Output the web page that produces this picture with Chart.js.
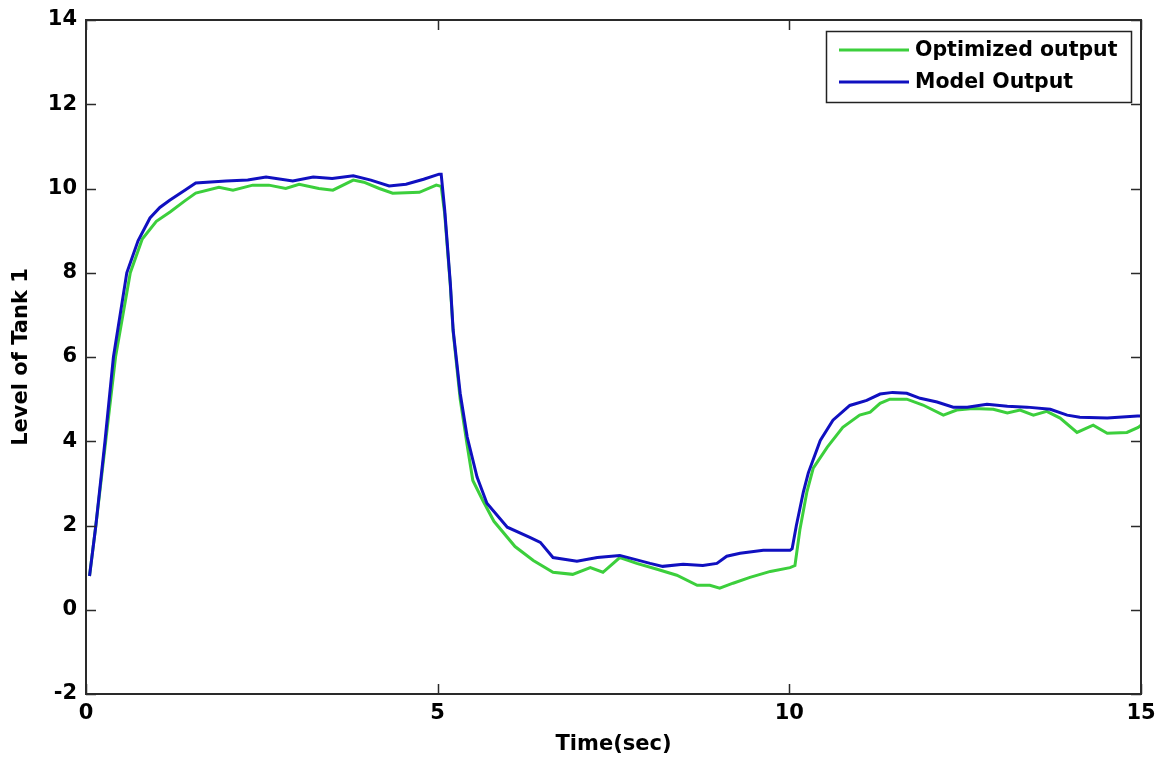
<!DOCTYPE html>
<html>
<head>
<meta charset="utf-8">
<script src="https://cdn.jsdelivr.net/npm/chart.js@4.4.0/dist/chart.umd.min.js"></script>
<style>
html,body{margin:0;padding:0;background:#fff;}
#wrap{width:1160px;height:762px;}
</style>
</head>
<body>
<div id="wrap"><canvas id="c" width="1160" height="762"></canvas></div>
<script>
// ---- data ----
const seriesNames = ["Optimized output", "Model Output"];
const xTickValues = [0, 5, 10, 15];
const yTickValues = [-2, 0, 2, 4, 6, 8, 10, 12, 14];
const xTitle = "Time(sec)";
const yTitle = "Level of Tank 1";

const optTime = [0.05,0.14,0.28,0.42,0.63,0.8,1.0,1.2,1.4,1.56,1.89,2.09,2.37,2.6,2.84,3.03,3.31,3.51,3.8,3.95,4.17,4.36,4.55,4.74,4.98,5.05,5.1,5.18,5.22,5.32,5.42,5.5,5.64,5.8,6.1,6.36,6.64,6.92,7.17,7.35,7.59,7.83,8.12,8.4,8.69,8.87,9.01,9.2,9.44,9.73,10.01,10.08,10.15,10.25,10.34,10.54,10.76,11.0,11.15,11.29,11.43,11.67,11.9,12.19,12.38,12.61,12.9,13.1,13.28,13.47,13.66,13.85,14.09,14.32,14.52,14.8,14.96,15.0];
const optLevel = [0.8,2.0,4.0,6.0,8.0,8.8,9.22,9.45,9.7,9.89,10.03,9.96,10.08,10.08,10.0,10.1,10.0,9.96,10.2,10.15,10.0,9.89,9.9,9.91,10.08,10.05,9.4,7.7,6.6,5.0,3.9,3.07,2.6,2.1,1.5,1.17,0.89,0.84,1.0,0.89,1.24,1.1,0.96,0.82,0.58,0.58,0.51,0.63,0.77,0.91,1.0,1.05,1.9,2.8,3.36,3.86,4.33,4.62,4.69,4.9,5.0,5.0,4.86,4.62,4.74,4.78,4.76,4.67,4.74,4.62,4.71,4.55,4.21,4.38,4.19,4.21,4.33,4.38];

const modelTime = [0.05,0.14,0.27,0.39,0.58,0.74,0.91,1.05,1.19,1.4,1.56,1.99,2.3,2.56,2.94,3.23,3.5,3.8,4.05,4.31,4.55,4.8,5.02,5.05,5.1,5.18,5.22,5.32,5.42,5.56,5.7,5.99,6.31,6.46,6.64,6.98,7.27,7.59,8.02,8.2,8.49,8.77,8.97,9.11,9.3,9.63,10.01,10.04,10.1,10.2,10.27,10.44,10.62,10.86,11.1,11.29,11.47,11.67,11.86,12.1,12.33,12.53,12.81,13.1,13.38,13.71,13.95,14.13,14.52,14.95,15.0];
const modelLevel = [0.8,2.0,4.0,6.0,8.0,8.76,9.3,9.55,9.72,9.95,10.13,10.18,10.2,10.27,10.18,10.27,10.24,10.3,10.2,10.06,10.1,10.22,10.34,10.34,9.49,7.75,6.64,5.14,4.1,3.15,2.53,1.96,1.72,1.6,1.24,1.15,1.24,1.29,1.1,1.03,1.08,1.05,1.1,1.27,1.34,1.41,1.41,1.45,2.0,2.8,3.25,4.02,4.5,4.85,4.97,5.12,5.16,5.14,5.02,4.93,4.81,4.81,4.88,4.83,4.81,4.76,4.62,4.57,4.55,4.6,4.6];

const toPoints = (xs, ys) => xs.map((x, i) => ({x: x, y: ys[i]}));

const FONT = "'DejaVu Sans', sans-serif";

// frame, inward ticks, legend
const matlabAxes = {
  id: 'matlabAxes',
  afterDraw(chart) {
    const {ctx, chartArea: a, scales} = chart;
    ctx.save();
    ctx.strokeStyle = '#2a2a2a';
    ctx.lineWidth = 1.5;
    const tl = 10;
    ctx.beginPath();
    scales.y.ticks.forEach(t => {
      const py = Math.round(scales.y.getPixelForValue(t.value)) + 0.5;
      ctx.moveTo(a.left, py); ctx.lineTo(a.left + tl, py);
      ctx.moveTo(a.right, py); ctx.lineTo(a.right - tl, py);
    });
    scales.x.ticks.forEach(t => {
      const px = Math.round(scales.x.getPixelForValue(t.value)) + 0.5;
      ctx.moveTo(px, a.bottom); ctx.lineTo(px, a.bottom - tl);
      ctx.moveTo(px, a.top); ctx.lineTo(px, a.top + tl);
    });
    ctx.stroke();
    ctx.lineWidth = 2;
    ctx.strokeRect(a.left, a.top, a.right - a.left, a.bottom - a.top);

    // legend
    const bw = 305, bh = 71;
    const bx = a.right - 10 - bw, by = a.top + 11;
    ctx.fillStyle = '#fff';
    ctx.fillRect(bx, by, bw, bh);
    ctx.lineWidth = 1.5;
    ctx.strokeStyle = '#222';
    ctx.strokeRect(bx + 0.5, by + 0.5, bw, bh);
    ctx.font = "bold 20.5px " + FONT;
    ctx.textBaseline = 'middle';
    ctx.textAlign = 'left';
    chart.data.datasets.forEach((ds, i) => {
      const ly = by + 19 + i * 32;
      ctx.strokeStyle = ds.borderColor;
      ctx.lineWidth = 3;
      ctx.beginPath();
      ctx.moveTo(bx + 13, ly); ctx.lineTo(bx + 83, ly);
      ctx.stroke();
      ctx.fillStyle = '#000';
      ctx.fillText(ds.label, bx + 89, ly + 1);
    });
    ctx.restore();
  }
};

new Chart(document.getElementById('c'), {
  type: 'line',
  data: {
    datasets: [
      {label: seriesNames[0], data: toPoints(optTime, optLevel), borderColor: '#3ccf3c', backgroundColor: '#3ccf3c', borderWidth: 3, pointRadius: 0, tension: 0, order: 2},
      {label: seriesNames[1], data: toPoints(modelTime, modelLevel), borderColor: '#1010c0', backgroundColor: '#1010c0', borderWidth: 3, pointRadius: 0, tension: 0, order: 1}
    ]
  },
  options: {
    responsive: false,
    animation: false,
    layout: {padding: {top: 20, right: 19, left: 0, bottom: 0}},
    plugins: {legend: {display: false}, tooltip: {enabled: false}},
    scales: {
      x: {
        type: 'linear', min: 0, max: 15,
        afterBuildTicks: s => { s.ticks = xTickValues.map(v => ({value: v})); },
        afterFit: s => { s.height = 68; s.paddingLeft = 0; s.paddingRight = 0; },
        grid: {display: false, drawTicks: false},
        border: {display: false},
        ticks: {padding: 7, color: '#000', font: {family: FONT, size: 21, weight: 'bold'}, maxRotation: 0},
        title: {display: true, text: xTitle, color: '#000', padding: {top: 0, bottom: 5}, font: {family: FONT, size: 21, weight: 'bold'}}
      },
      y: {
        type: 'linear', min: -2, max: 14,
        afterBuildTicks: s => { s.ticks = yTickValues.map(v => ({value: v})); },
        afterFit: s => { s.width = 86; s.paddingTop = 0; s.paddingBottom = 0; },
        grid: {display: false, drawTicks: false},
        border: {display: false},
        ticks: {padding: 9, color: '#000', font: {family: FONT, size: 21, weight: 'bold'}},
        title: {display: true, text: yTitle, color: '#000', padding: {top: 9, bottom: 0}, font: {family: FONT, size: 21, weight: 'bold'}}
      }
    }
  },
  plugins: [matlabAxes]
});
</script>
</body>
</html>
